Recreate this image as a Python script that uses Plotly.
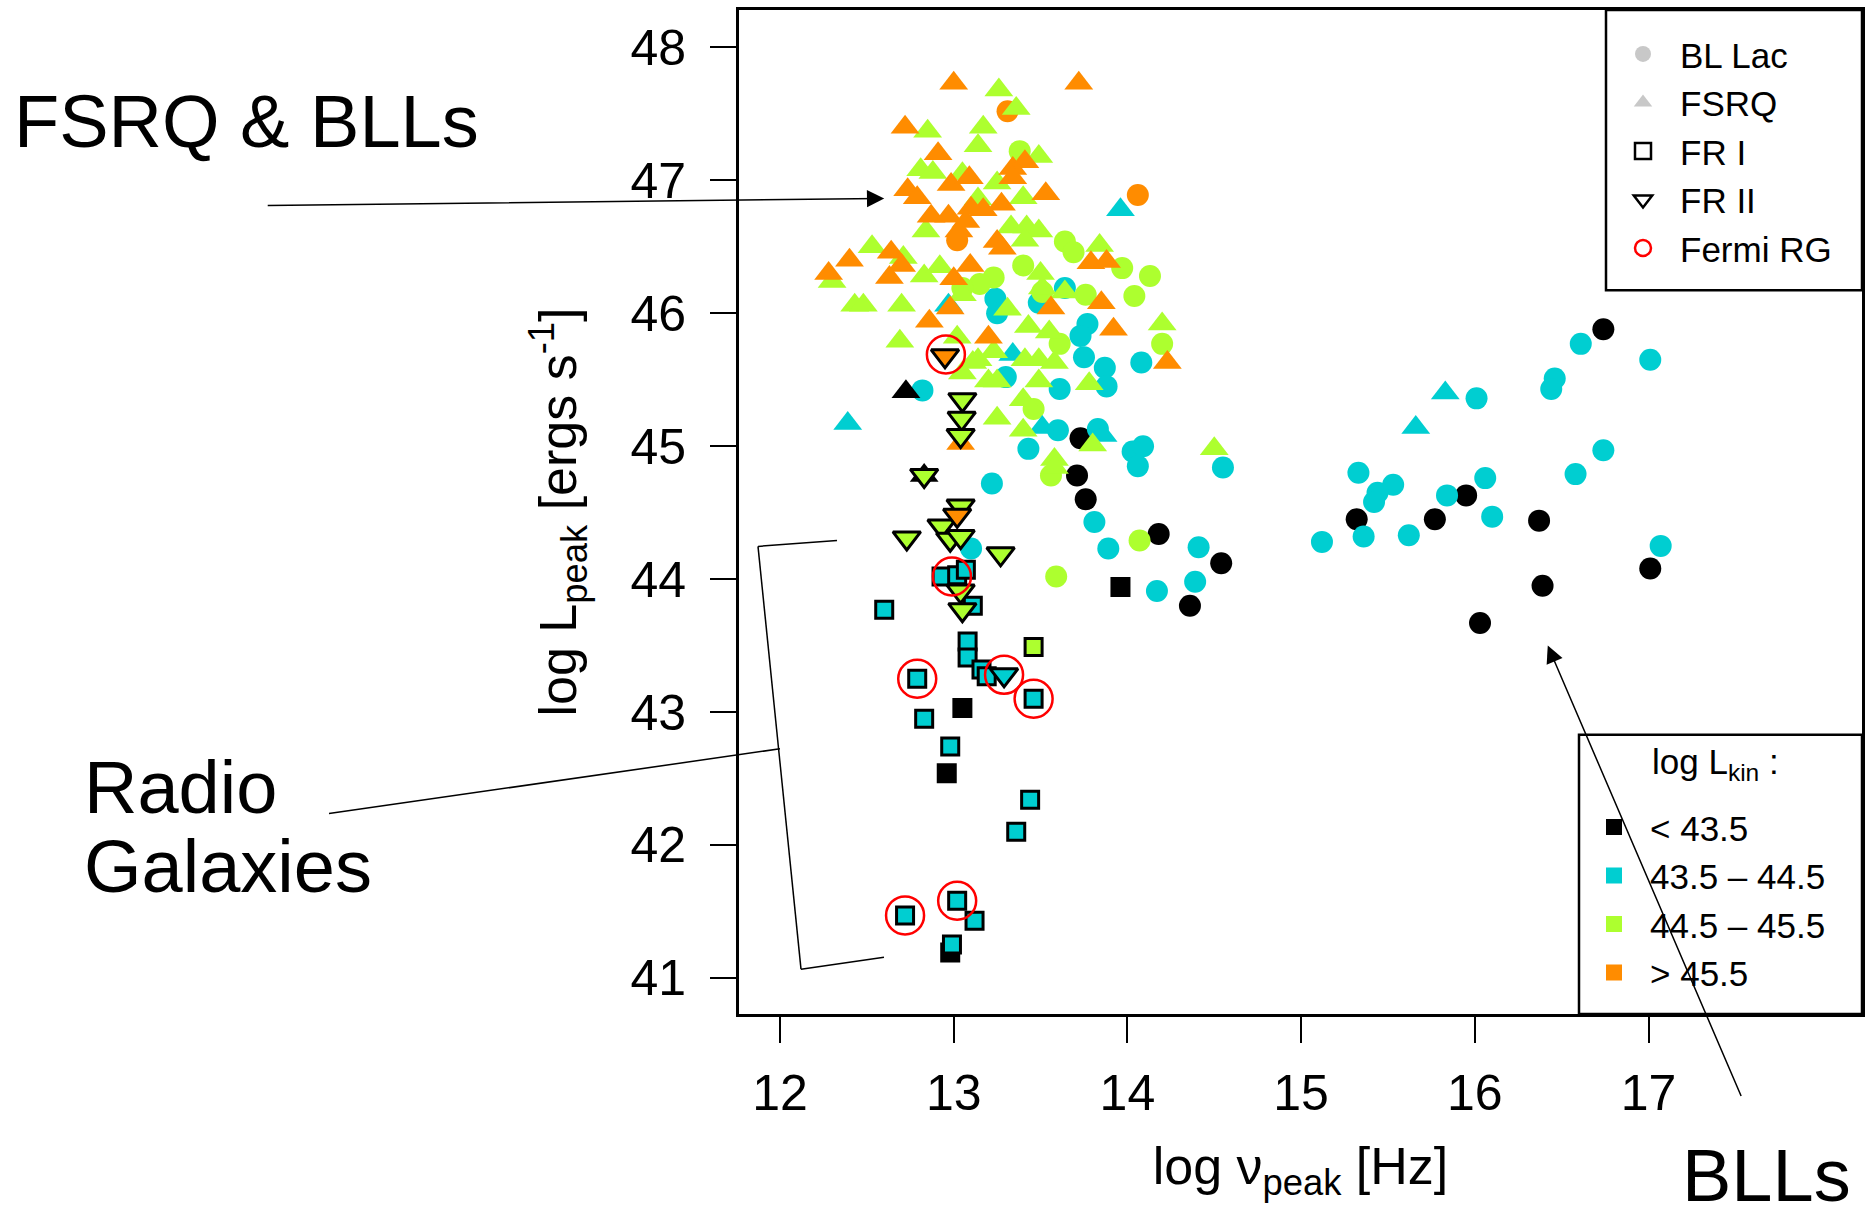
import plotly.graph_objects as go

# ---------------- data ----------------
bin_colors = ["#000000", "#00CED1", "#ADFF2F", "#FF8C00"]
bin_labels = ["&lt; 43.5", "43.5 – 44.5", "44.5 – 45.5", "&gt; 45.5"]

# BL Lac objects (circles), split by log L_kin bin
bll_black_x = [13.73, 13.71, 13.76, 14.18, 14.54, 14.36, 15.32, 15.77, 15.95, 16.37, 16.39, 16.03, 16.74, 17.01]
bll_black_y = [45.06, 44.78, 44.60, 44.34, 44.12, 43.80, 44.45, 44.45, 44.63, 44.44, 43.95, 43.67, 45.88, 44.08]

bll_cyan_x = [13.64, 13.24, 13.25, 13.49, 13.77, 13.73, 13.75, 13.87, 13.88, 14.08, 13.61, 13.30, 12.82,
              13.60, 13.83, 13.43, 14.03, 14.09, 14.06, 14.55, 13.22, 13.81, 13.89, 14.41, 13.10, 14.39, 14.17,
              16.61, 17.01, 16.46, 16.44, 16.01, 16.74, 16.58, 16.06, 16.10, 15.84, 15.33, 15.53, 15.44, 15.42,
              15.12, 15.36, 15.62, 17.07]
bll_cyan_y = [46.19, 46.11, 46.00, 46.08, 45.92, 45.83, 45.67, 45.59, 45.45, 45.63, 45.43, 45.52, 45.42,
              45.12, 45.13, 44.98, 44.96, 45.00, 44.85, 44.84, 44.72, 44.43, 44.23, 44.24, 44.23, 43.98, 43.91,
              45.77, 45.65, 45.51, 45.43, 45.36, 44.97, 44.79, 44.76, 44.47, 44.63, 44.80, 44.71, 44.65, 44.58,
              44.28, 44.32, 44.33, 44.25]

bll_green_x = [13.38, 13.64, 13.69, 13.97, 14.13, 14.04, 13.40, 13.23, 13.15, 13.05, 13.51, 13.76, 13.61,
               14.20, 13.46, 13.56, 14.07, 13.59]
bll_green_y = [47.22, 46.54, 46.46, 46.34, 46.28, 46.13, 46.36, 46.27, 46.22, 46.19, 46.16, 46.14, 45.77,
               45.77, 45.28, 44.78, 44.29, 44.02]

bll_orange_x = [13.31, 14.06, 13.02]
bll_orange_y = [47.52, 46.89, 46.55]

# FSRQs (triangles)
fsrq_black_x = [12.725, 12.83]
fsrq_black_y = [45.41, 44.78]

fsrq_cyan_x = [13.96, 12.39, 15.66, 15.83, 13.34, 12.97, 13.51, 13.86]
fsrq_cyan_y = [46.78, 45.17, 45.14, 45.40, 45.69, 46.06, 45.14, 45.08]

fsrq_green_x = [13.26, 13.36, 12.85, 13.17, 13.14, 13.49, 12.81, 12.88, 13.05, 13.25, 13.40, 13.14, 12.84,
                13.33, 13.42, 13.49, 13.41, 12.53, 12.71, 12.83, 12.92, 12.30, 12.43, 12.48, 12.70, 13.05,
                13.31, 13.50, 13.51, 13.64, 13.84, 12.69, 13.02, 13.43, 13.55, 13.23, 13.11, 13.41, 13.49,
                13.58, 14.20, 13.25, 13.20, 13.49, 13.78, 13.40, 13.25, 13.40, 13.80, 13.58, 13.58, 14.50,
                13.14, 13.05]
fsrq_green_y = [47.68, 47.54, 47.37, 47.40, 47.26, 47.18, 47.08, 47.06, 47.05, 46.98, 46.87, 46.86, 46.62,
                46.65, 46.65, 46.62, 46.55, 46.50, 46.42, 46.28, 46.35, 46.24, 46.06, 46.06, 46.06, 46.14,
                46.03, 46.30, 46.19, 46.16, 46.51, 45.79, 45.82, 45.90, 45.86, 45.71, 45.63, 45.65, 45.65,
                45.63, 45.92, 45.49, 45.49, 45.49, 45.47, 45.35, 45.21, 45.12, 45.01, 44.90, 44.84, 44.98,
                45.65, 45.55]

fsrq_orange_x = [13.00, 13.72, 12.72, 12.91, 13.34, 13.41, 12.735, 12.985, 13.09, 12.79, 13.53, 13.34,
                 13.275, 13.17, 13.10, 12.87, 12.97, 13.03, 13.07, 13.25, 13.28, 12.40, 12.28, 12.64, 12.70,
                 12.63, 13.095, 13.00, 13.79, 13.88, 12.98, 12.86, 13.20, 13.56, 13.85, 13.92, 14.23, 13.04]
fsrq_orange_y = [47.73, 47.73, 47.40, 47.20, 47.09, 47.14, 46.93, 46.97, 47.02, 46.87, 46.90, 47.02,
                 46.82, 46.78, 46.79, 46.73, 46.73, 46.62, 46.69, 46.54, 46.49, 46.40, 46.30, 46.46, 46.36,
                 46.27, 46.36, 46.26, 46.38, 46.39, 46.04, 45.94, 45.82, 46.04, 46.08, 45.88, 45.63, 45.02]

# FR I radio galaxies (squares)
fr1_black_x = [13.96, 13.05, 12.96, 12.98]
fr1_black_y = [43.94, 43.03, 42.54, 41.19]
fr1_cyan_x = [12.60, 12.93, 13.02, 13.07, 13.11, 13.08, 13.08, 13.16, 13.19, 12.79, 13.46, 12.83, 12.98,
              13.44, 13.36, 13.02, 12.72, 13.12, 12.99]
fr1_cyan_y = [43.77, 44.02, 44.03, 44.07, 43.80, 43.53, 43.41, 43.32, 43.27, 43.25, 43.10, 42.95, 42.74,
              42.34, 42.10, 41.58, 41.47, 41.43, 41.25]
fr1_green_x = [13.46]
fr1_green_y = [43.49]

# FR II radio galaxies (down triangles)
fr2_green_x = [13.05, 13.046, 13.04, 12.83, 13.04, 12.93, 12.73, 12.98, 13.04, 13.27, 13.04, 13.05]
fr2_green_y = [45.35, 45.21, 45.08, 44.78, 44.55, 44.40, 44.31, 44.30, 44.32, 44.19, 43.91, 43.77]
fr2_orange_x = [12.95, 13.02]
fr2_orange_y = [45.68, 44.48]
fr2_cyan_x = [13.29]
fr2_cyan_y = [43.28]

# Fermi-detected radio galaxies (red rings)
fermi_x = [12.955, 12.99, 12.79, 13.29, 13.46, 13.02, 12.72]
fermi_y = [45.69, 44.02, 43.25, 43.28, 43.10, 41.58, 41.47]

x_ticks = [12, 13, 14, 15, 16, 17]
y_ticks = [41, 42, 43, 44, 45, 46, 47, 48]

# ---------------- layout helpers ----------------
W, H = 1876, 1212
ML, MR, MT, MB = 739, 14, 7, 198
PW = W - ML - MR
PH = H - MT - MB


def px(xp):
    return (xp - ML) / PW


def py(yp):
    return (H - MB - yp) / PH


FONT = "Liberation Sans, Arial, sans-serif"

fig = go.Figure()

# blazars
for xs, ys, c in [(bll_black_x, bll_black_y, 0), (bll_cyan_x, bll_cyan_y, 1),
                  (bll_green_x, bll_green_y, 2), (bll_orange_x, bll_orange_y, 3)]:
    fig.add_trace(go.Scatter(x=xs, y=ys, mode="markers", showlegend=False, hoverinfo="x+y",
                             marker=dict(symbol="circle", size=22, color=bin_colors[c], line=dict(width=0))))
for xs, ys, c in [(fsrq_black_x, fsrq_black_y, 0), (fsrq_cyan_x, fsrq_cyan_y, 1),
                  (fsrq_green_x, fsrq_green_y, 2), (fsrq_orange_x, fsrq_orange_y, 3)]:
    fig.add_trace(go.Scatter(x=xs, y=ys, mode="markers", showlegend=False, hoverinfo="x+y",
                             marker=dict(symbol="triangle-up", size=25, color=bin_colors[c], line=dict(width=0))))
# radio galaxies
for xs, ys, c in [(fr1_black_x, fr1_black_y, 0), (fr1_cyan_x, fr1_cyan_y, 1), (fr1_green_x, fr1_green_y, 2)]:
    fig.add_trace(go.Scatter(x=xs, y=ys, mode="markers", showlegend=False, hoverinfo="x+y",
                             marker=dict(symbol="square", size=17, color=bin_colors[c],
                                         line=dict(width=3, color="black"))))
for xs, ys, c in [(fr2_green_x, fr2_green_y, 2), (fr2_orange_x, fr2_orange_y, 3), (fr2_cyan_x, fr2_cyan_y, 1)]:
    fig.add_trace(go.Scatter(x=xs, y=ys, mode="markers", showlegend=False, hoverinfo="x+y",
                             marker=dict(symbol="triangle-down", size=24, color=bin_colors[c],
                                         line=dict(width=3, color="black"))))
fig.add_trace(go.Scatter(x=fermi_x, y=fermi_y, mode="markers", showlegend=False, hoverinfo="x+y",
                         marker=dict(symbol="circle-open", size=38, color="red", line=dict(width=2.5, color="red"))))

# legend 1 (class symbols)
leg1 = [("BL Lac", "circle", "#C8C8C8", 0, "#C8C8C8"),
        ("FSRQ", "triangle-up", "#C8C8C8", 0, "#C8C8C8"),
        ("FR I", "square-open", "black", 2.5, "black"),
        ("FR II", "triangle-down-open", "black", 2.5, "black"),
        ("Fermi RG", "circle-open", "red", 2.5, "red")]
for name, sym, col, lw, lc in leg1:
    fig.add_trace(go.Scatter(x=[None], y=[None], mode="markers", name=name, legend="legend",
                             marker=dict(symbol=sym, size=16, color=col, line=dict(width=lw, color=lc))))
# legend 2 (L_kin colour bins)
for lab, col in zip(bin_labels, bin_colors):
    fig.add_trace(go.Scatter(x=[None], y=[None], mode="markers", name=lab, legend="legend2",
                             marker=dict(symbol="square", size=16, color=col, line=dict(width=0))))

axis_common = dict(showgrid=False, zeroline=False, showline=True, linewidth=3, linecolor="black",
                   mirror=True, ticks="outside", ticklen=26, tickwidth=2, tickcolor="black",
                   tickfont=dict(size=50, family=FONT, color="black"))

LEG_FS = 35
item_h = LEG_FS * 1.3 + 3
leg1_top = 148 - 2 * item_h - (item_h / 2 + 5)
leg2_top = 899 - 1.5 * item_h - (item_h / 2 + 5)

fig.update_layout(
    width=W, height=H, autosize=False,
    margin=dict(l=ML, r=MR, t=MT, b=MB, pad=0),
    paper_bgcolor="white", plot_bgcolor="white",
    font=dict(family=FONT, color="black"),
    xaxis=dict(range=[11.764, 18.229], tickvals=x_ticks, ticktext=[str(v) for v in x_ticks],
               ticklabelstandoff=7,
               title=dict(text="log ν<sub>peak</sub> [Hz]", font=dict(size=52, family=FONT), standoff=28),
               **axis_common),
    yaxis=dict(range=[40.728, 48.282], tickvals=y_ticks, ticktext=[str(v) for v in y_ticks],
               ticklabelstandoff=14,
               title=dict(text="log L<sub>peak</sub> [ergs s<sup>-1</sup>]", font=dict(size=52, family=FONT),
                          standoff=38),
               **axis_common),
    legend=dict(x=px(1606), y=py(leg1_top), xanchor="left", yanchor="top", borderwidth=0,
                bgcolor="rgba(0,0,0,0)", itemwidth=64, font=dict(size=LEG_FS, family=FONT),
                traceorder="normal", itemclick=False, itemdoubleclick=False),
    legend2=dict(x=px(1578), y=py(leg2_top), xanchor="left", yanchor="top", borderwidth=0,
                 bgcolor="rgba(0,0,0,0)", itemwidth=62, font=dict(size=LEG_FS, family=FONT),
                 traceorder="normal", itemclick=False, itemdoubleclick=False),
)

# legend boxes
fig.add_shape(type="rect", xref="paper", yref="paper", x0=px(1606), x1=1, y0=py(288), y1=1,
              line=dict(color="black", width=2.5), fillcolor="rgba(0,0,0,0)", layer="above")
fig.add_shape(type="rect", xref="paper", yref="paper", x0=px(1579), x1=1, y0=0, y1=py(734),
              line=dict(color="black", width=2.5), fillcolor="rgba(0,0,0,0)", layer="above")
fig.add_annotation(xref="paper", yref="paper", x=px(1650), y=py(763), xanchor="left", yanchor="middle",
                   text="log L<sub>kin</sub> :", showarrow=False, font=dict(size=LEG_FS, family=FONT, color="black"))

# bracket around radio galaxies and connector
bracket = [(837, 539), (758, 545), (801, 969), (884, 957)]
for (xa, ya), (xb, yb) in zip(bracket[:-1], bracket[1:]):
    fig.add_shape(type="line", xref="paper", yref="paper", x0=px(xa), y0=py(ya), x1=px(xb), y1=py(yb),
                  line=dict(color="black", width=1.5))
fig.add_shape(type="line", xref="paper", yref="paper", x0=px(329), y0=py(813), x1=px(780), y1=py(748),
              line=dict(color="black", width=1.5))

# text labels
big = dict(size=74, family=FONT, color="black")
fig.add_annotation(xref="paper", yref="paper", x=px(12), y=py(119), xanchor="left", yanchor="middle",
                   text="FSRQ &amp; BLLs", showarrow=False, font=big)
fig.add_annotation(xref="paper", yref="paper", x=px(82), y=py(787), xanchor="left", yanchor="middle",
                   text="Radio", showarrow=False, font=big)
fig.add_annotation(xref="paper", yref="paper", x=px(82), y=py(866), xanchor="left", yanchor="middle",
                   text="Galaxies", showarrow=False, font=big)
fig.add_annotation(xref="paper", yref="paper", x=px(1680), y=py(1176), xanchor="left", yanchor="middle",
                   text="BLLs", showarrow=False, font=big)

# arrows
fig.add_annotation(x=12.60, y=46.864, xref="x", yref="y", ax=-618, ay=7, text="", showarrow=True,
                   arrowhead=2, arrowsize=2.3, arrowwidth=1.5, arrowcolor="black")
fig.add_annotation(x=16.42, y=43.50, xref="x", yref="y", ax=194, ay=452, text="", showarrow=True,
                   arrowhead=2, arrowsize=2.3, arrowwidth=1.5, arrowcolor="black")

fig.write_html("out.html", config={"displayModeBar": False},
               post_script="document.body.style.margin='0px';document.body.style.overflow='hidden';")
